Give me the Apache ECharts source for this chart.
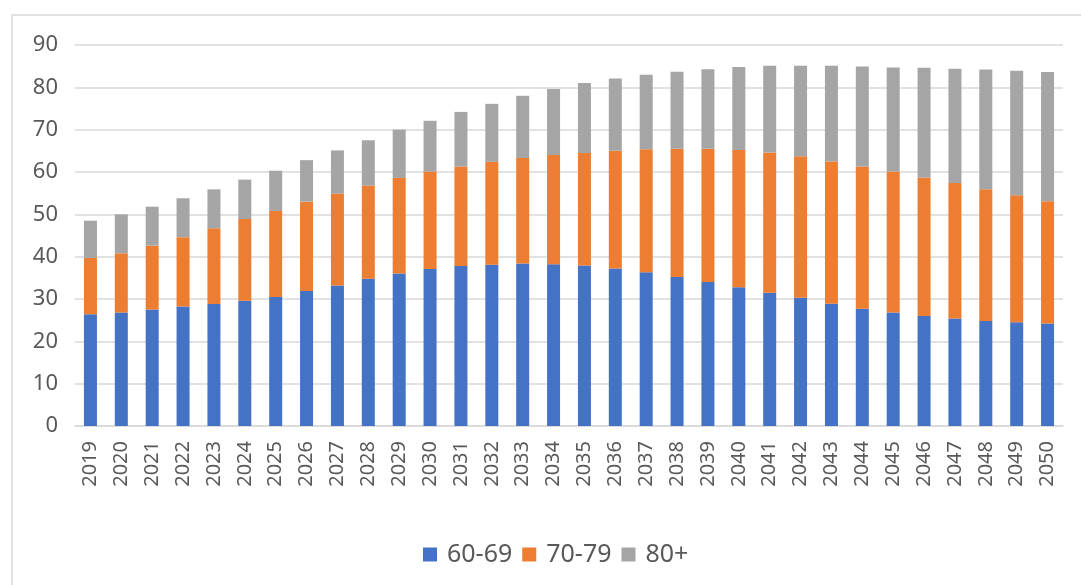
<!DOCTYPE html>
<html>
<head>
<meta charset="utf-8">
<script src="https://cdn.jsdelivr.net/npm/echarts@6/dist/echarts.min.js"></script>
<style>html,body{margin:0;padding:0;background:#fff}#c{width:1081px;height:585px}</style>
</head>
<body>
<div id="c"></div>
<script>
const years = ['2019','2020','2021','2022','2023','2024','2025','2026','2027','2028','2029','2030','2031','2032','2033','2034','2035','2036','2037','2038','2039','2040','2041','2042','2043','2044','2045','2046','2047','2048','2049','2050'];
const age60_69 = [26.4,26.8,27.5,28.2,28.8,29.6,30.5,31.9,33.2,34.8,36.0,37.1,37.8,38.1,38.4,38.2,37.9,37.2,36.3,35.2,34.0,32.8,31.5,30.3,28.9,27.7,26.8,26.0,25.4,24.8,24.5,24.2];
const age70_79 = [13.3,14.0,15.1,16.4,17.9,19.3,20.3,21.1,21.7,22.0,22.6,23.0,23.5,24.3,24.9,25.8,26.6,27.8,29.1,30.3,31.5,32.4,33.1,33.4,33.6,33.6,33.3,32.7,32.0,31.1,30.0,28.9];
const age80p   = [8.8,9.2,9.2,9.2,9.2,9.3,9.5,9.8,10.2,10.7,11.4,12.0,12.9,13.7,14.7,15.6,16.5,17.1,17.6,18.2,18.8,19.6,20.5,21.4,22.6,23.6,24.6,25.9,27.0,28.3,29.4,30.5];
const seriesNames = ['60-69','70-79','80+'];
const yTicks = {min:0, max:90, interval:10};

const font = '"Noto Sans", "Open Sans", sans-serif';
const txt = '#595959';
const chart = echarts.init(document.getElementById('c'));
const mk = (name, data, color) => ({
  name, type:'bar', stack:'total', data, barWidth:13,
  itemStyle:{color}, emphasis:{disabled:true}
});
chart.setOption({
  animation:false,
  graphic:[{type:'rect', shape:{x:12,y:15,width:1200,height:700}, style:{fill:'none', stroke:'#d9d9d9', lineWidth:1.5}, silent:true, z:-1}],
  grid:{left:75, right:18, top:45, bottom:159, containLabel:false},
  legend:{
    data:seriesNames, top:537, left:418, itemWidth:14, itemHeight:14, itemGap:10,
    icon:'rect',
    textStyle:{fontFamily:font, fontSize:25, color:txt, padding:[0,0,0,5]}
  },
  xAxis:{
    type:'category', data:years,
    axisLine:{lineStyle:{color:'#d9d9d9', width:1.5}},
    axisTick:{show:false},
    axisLabel:{rotate:90, fontFamily:font, fontSize:20, color:txt, margin:15, interval:0}
  },
  yAxis:{
    type:'value', min:yTicks.min, max:yTicks.max, interval:yTicks.interval,
    axisLine:{show:false}, axisTick:{show:false},
    splitLine:{lineStyle:{color:'#d9d9d9', width:1.5}},
    axisLabel:{fontFamily:font, fontSize:22, color:txt, margin:17}
  },
  series:[
    mk(seriesNames[0], age60_69, '#4472C4'),
    mk(seriesNames[1], age70_79, '#ED7D31'),
    mk(seriesNames[2], age80p, '#A5A5A5')
  ]
});
</script>
</body>
</html>
